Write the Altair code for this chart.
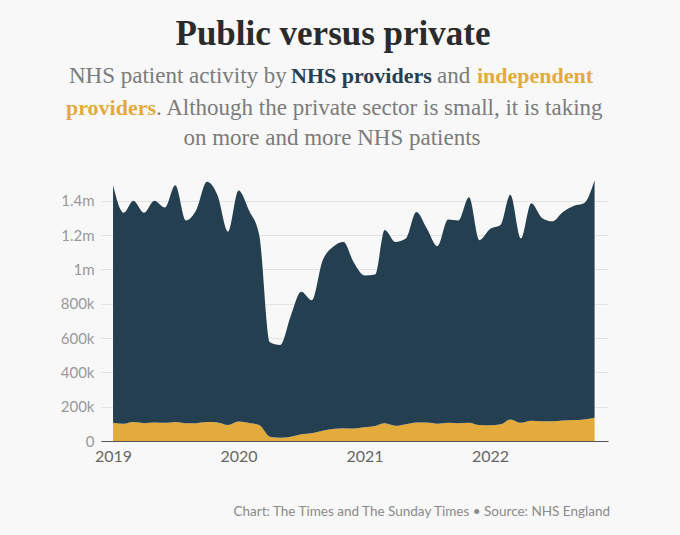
import altair as alt
import pandas as pd

months = pd.date_range("2019-01-01", "2022-11-01", freq="MS").strftime("%Y-%m-%d").tolist()

# Total activity (thousands), read from top of the stacked area
total_k = [1490, 1330, 1400, 1330, 1400, 1360, 1490, 1285, 1350, 1510, 1430, 1220,
           1460, 1340, 1200, 575, 560, 730, 870, 820, 1050, 1130, 1160, 1040,
           965, 970, 1230, 1160, 1180, 1335, 1240, 1135, 1290, 1285, 1420, 1170,
           1235, 1260, 1435, 1180, 1385, 1300, 1280, 1335, 1370, 1385, 1520]
# Independent providers (thousands)
independent_k = [107, 100, 110, 104, 108, 106, 111, 104, 104, 110, 108, 93,
                 113, 105, 93, 25, 19, 25, 39, 45, 60, 70, 75, 73,
                 80, 88, 103, 89, 98, 108, 108, 101, 106, 103, 107, 93,
                 92, 97, 126, 106, 118, 115, 115, 120, 122, 126, 136]
nhs_k = [t - i for t, i in zip(total_k, independent_k)]

providers = ["Independent providers", "NHS providers"]
colors = ["#e2ab3b", "#243f50"]

rows = []
for d, ind, nhs in zip(months, independent_k, nhs_k):
    rows.append({"date": d, "provider": providers[0], "value": ind * 1000, "ord": 0})
    rows.append({"date": d, "provider": providers[1], "value": nhs * 1000, "ord": 1})
df = pd.DataFrame(rows)

y_ticks = [0, 200000, 400000, 600000, 800000, 1000000, 1200000, 1400000]
x_ticks = [alt.DateTime(year=y, month=1, date=1, utc=True) for y in [2019, 2020, 2021, 2022]]

label_font = "Lato"

area = alt.Chart(df).mark_area(interpolate="monotone").encode(
    x=alt.X("date:T",
            scale=alt.Scale(type="utc",
                            domain=[alt.DateTime(year=2018, month=11, date=27, utc=True),
                                    alt.DateTime(year=2022, month=12, date=10, utc=True)]),
            axis=alt.Axis(title=None, format="%Y", formatType="utc", values=x_ticks,
                          grid=False, ticks=False, domain=True, domainColor="#555555",
                          domainWidth=1.2, labelFont=label_font, labelFontSize=16,
                          labelColor="#666666", labelPadding=7)),
    y=alt.Y("value:Q", stack="zero",
            scale=alt.Scale(domain=[0, 1550000], nice=False),
            axis=alt.Axis(title=None, values=y_ticks, domain=False, ticks=False,
                          grid=True, gridColor="#e2e2e2", gridWidth=1,
                          labelFont=label_font, labelFontSize=15, labelColor="#999999",
                          labelPadding=7,
                          labelExpr="datum.value == 0 ? '0' : datum.value >= 1000000 ? format(datum.value/1000000, '.2~f') + 'm' : format(datum.value/1000, 'd') + 'k'")),
    color=alt.Color("provider:N", scale=alt.Scale(domain=providers, range=colors), legend=None),
    order=alt.Order("ord:Q", sort="ascending"),
)

one = pd.DataFrame({"a": [0]})
serif = "Liberation Serif"
sub_grey = "#7b7b7b"
navy = "#243f50"
gold = "#e2ab3b"

def txt(text, x, y, size, color, weight="normal", align="left", font=serif):
    return alt.Chart(one).mark_text(
        text=text, align=align, baseline="alphabetic", font=font,
        fontSize=size, fontWeight=weight, color=color
    ).encode(x=alt.value(x), y=alt.value(y))

texts = [
    txt("Public versus private", 232, -130, 35, "#2b2b2b", "bold", "center"),
    txt("NHS patient activity by", -32, -92, 23, sub_grey),
    txt("NHS providers", 190, -92, 22, navy, "bold"),
    txt("and", 336, -92, 23, sub_grey),
    txt("independent", 376, -92, 22, gold, "bold"),
    txt("providers", -35, -60, 22, gold, "bold"),
    txt(". Although the private sector is small, it is taking", 55, -60, 23, sub_grey),
    txt("on more and more NHS patients", 231, -30, 23, sub_grey, "normal", "center"),
    txt("Chart: The Times and The Sunday Times \u2022 Source: NHS England", 509, 341, 13.5,
        "#8a8a8a", "normal", "right", label_font),
]

chart = alt.layer(area, *texts).properties(
    width=507, height=266,
    autosize=alt.AutoSizeParams(type="none"),
    padding={"left": 101, "top": 175, "right": 72, "bottom": 94},
    background="#f8f8f8",
).configure_view(stroke=None)

chart.save("out.html", embed_options={"renderer": "svg", "actions": False})
